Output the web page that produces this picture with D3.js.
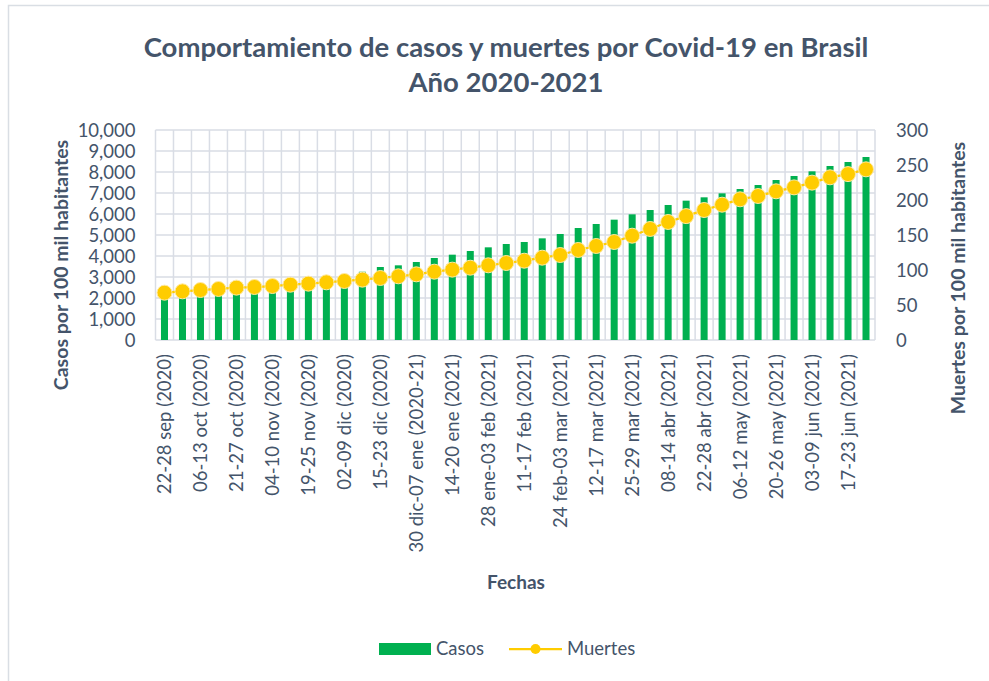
<!DOCTYPE html>
<html>
<head>
<meta charset="utf-8">
<script src="https://cdn.jsdelivr.net/npm/d3@7"></script>
<style>
  body { margin: 0; background: #fff; }
  svg { display: block; font-family: Lato, "Open Sans", sans-serif; }
</style>
</head>
<body>
<svg id="chart" width="989" height="681"></svg>
<script>
// weekly periods (every other one is labelled on the axis)
var fechas = [
  "22-28 sep (2020)", "29 sep-05 oct (2020)", "06-13 oct (2020)", "14-20 oct (2020)",
  "21-27 oct (2020)", "28 oct-03 nov (2020)", "04-10 nov (2020)", "11-18 nov (2020)",
  "19-25 nov (2020)", "26 nov-01 dic (2020)", "02-09 dic (2020)", "10-14 dic (2020)",
  "15-23 dic (2020)", "24-29 dic (2020)", "30 dic-07 ene (2020-21)", "08-13 ene (2021)",
  "14-20 ene (2021)", "21-27 ene (2021)", "28 ene-03 feb (2021)", "04-10 feb (2021)",
  "11-17 feb (2021)", "18-23 feb (2021)", "24 feb-03 mar (2021)", "04-11 mar (2021)",
  "12-17 mar (2021)", "18-24 mar (2021)", "25-29 mar (2021)", "30 mar-07 abr (2021)",
  "08-14 abr (2021)", "15-21 abr (2021)", "22-28 abr (2021)", "29 abr-05 may (2021)",
  "06-12 may (2021)", "13-19 may (2021)", "20-26 may (2021)", "27 may-02 jun (2021)",
  "03-09 jun (2021)", "10-16 jun (2021)", "17-23 jun (2021)", "24-30 jun (2021)"
];

// casos por 100 mil habitantes
var casos = [
  2240, 2320, 2400, 2470, 2540, 2600, 2670, 2760, 2870, 2980,
  3100, 3250, 3476, 3556, 3714, 3905, 4063, 4238, 4413, 4571,
  4667, 4841, 5048, 5333, 5524, 5730, 5984, 6190, 6429, 6635,
  6794, 6984, 7190, 7381, 7619, 7810, 8032, 8286, 8476, 8714
];

// muertes por 100 mil habitantes
var muertes = [
  67.6, 69.5, 71.4, 72.9, 74.8, 75.7, 77.1, 79.0, 80.5, 82.4,
  84.3, 86.2, 88.6, 91.0, 93.8, 97.6, 100.5, 103.3, 106.7, 110.0,
  113.3, 117.6, 121.4, 128.6, 134.3, 140.0, 149.0, 158.6, 168.6, 177.0,
  185.7, 193.3, 201.0, 205.7, 212.4, 218.0, 224.8, 232.4, 237.0, 243.8
];

var ticksCasos = [0, 1000, 2000, 3000, 4000, 5000, 6000, 7000, 8000, 9000, 10000];
var ticksMuertes = [0, 50, 100, 150, 200, 250, 300];

var textColor = "#44546a";
var gridColor = "#d9dde5";
var green = "#00b050";
var gold = "#ffcc00";
var tickSize = "18.5px";

var svg = d3.select("#chart");

// outer chart frame
svg.append("rect")
    .attr("x", 8.5).attr("y", 5.5)
    .attr("width", 1000).attr("height", 700)
    .attr("fill", "#fff")
    .attr("stroke", "#d9dee4")
    .attr("stroke-width", 1.5);

var plotLeft = 155.5, plotRight = 875, plotTop = 130, plotBottom = 340;

var x = d3.scaleBand()
    .domain(fechas)
    .range([plotLeft, plotRight])
    .paddingInner(0.61)
    .paddingOuter(0.305);

var yL = d3.scaleLinear().domain([0, 10000]).range([plotBottom, plotTop]);
var yR = d3.scaleLinear().domain([0, 300]).range([plotBottom, plotTop]);

var step = x.step();

// grid
var grid = svg.append("g");
grid.selectAll("line.h")
    .data(ticksCasos)
    .enter().append("line")
    .attr("class", "h")
    .attr("x1", plotLeft).attr("x2", plotRight)
    .attr("y1", function (d) { return yL(d); })
    .attr("y2", function (d) { return yL(d); })
    .attr("stroke", gridColor).attr("stroke-width", 1.5);

grid.selectAll("line.v")
    .data(d3.range(fechas.length + 1))
    .enter().append("line")
    .attr("class", "v")
    .attr("x1", function (i) { return plotLeft + i * step; })
    .attr("x2", function (i) { return plotLeft + i * step; })
    .attr("y1", plotTop).attr("y2", plotBottom)
    .attr("stroke", gridColor).attr("stroke-width", 1.5);

// bars
svg.append("g").selectAll("rect")
    .data(casos)
    .enter().append("rect")
    .attr("x", function (d, i) { return x(fechas[i]); })
    .attr("width", x.bandwidth())
    .attr("y", function (d) { return yL(d); })
    .attr("height", function (d) { return yL(0) - yL(d); })
    .attr("fill", green);

// deaths line + markers
var line = d3.line()
    .x(function (d, i) { return x(fechas[i]) + x.bandwidth() / 2; })
    .y(function (d) { return yR(d); });

svg.append("path")
    .datum(muertes)
    .attr("d", line)
    .attr("fill", "none")
    .attr("stroke", gold)
    .attr("stroke-width", 2.25);

svg.append("g").selectAll("circle")
    .data(muertes)
    .enter().append("circle")
    .attr("cx", function (d, i) { return x(fechas[i]) + x.bandwidth() / 2; })
    .attr("cy", function (d) { return yR(d); })
    .attr("r", 7.5)
    .attr("fill", gold)
    .attr("stroke", "#ffe9a0")
    .attr("stroke-width", 1);

// axes
var axL = svg.append("g")
    .attr("transform", "translate(" + (plotLeft - 20) + ",0)")
    .call(d3.axisLeft(yL).tickValues(ticksCasos).tickSize(0).tickFormat(d3.format(",")));
var axR = svg.append("g")
    .attr("transform", "translate(" + (plotRight + 21) + ",0)")
    .call(d3.axisRight(yR).tickValues(ticksMuertes).tickSize(0));

var xLabels = fechas.filter(function (d, i) { return i % 2 === 0; });
var axB = svg.append("g")
    .attr("transform", "translate(0," + (plotBottom + 14) + ")")
    .call(d3.axisBottom(x).tickValues(xLabels).tickSize(0));
axB.selectAll("text")
    .attr("transform", "rotate(-90)")
    .attr("text-anchor", "end")
    .attr("x", 0).attr("y", 0)
    .attr("dy", "0.35em");

[axL, axR, axB].forEach(function (a) {
    a.select(".domain").remove();
    a.selectAll("text")
        .attr("fill", textColor)
        .style("font-size", tickSize)
        .style("font-family", "Lato, 'Open Sans', sans-serif");
});
axL.selectAll("text").attr("x", 0).attr("dy", "0.36em");
axR.selectAll("text").attr("x", 0).attr("dy", "0.36em");

// titles
svg.append("text")
    .attr("x", 506).attr("y", 57)
    .attr("text-anchor", "middle")
    .attr("fill", textColor)
    .style("font-size", "27.5px").style("font-weight", "bold")
    .text("Comportamiento de casos y muertes por Covid-19 en Brasil");
svg.append("text")
    .attr("x", 506).attr("y", 92)
    .attr("text-anchor", "middle")
    .attr("fill", textColor)
    .style("font-size", "27.5px").style("font-weight", "bold")
    .text("Año 2020-2021");

svg.append("text")
    .attr("transform", "translate(68,265) rotate(-90)")
    .attr("text-anchor", "middle")
    .attr("fill", textColor)
    .style("font-size", "19.5px").style("font-weight", "bold")
    .text("Casos por 100 mil habitantes");

svg.append("text")
    .attr("transform", "translate(965,278) rotate(-90)")
    .attr("text-anchor", "middle")
    .attr("fill", textColor)
    .style("font-size", "19.5px").style("font-weight", "bold")
    .text("Muertes por 100 mil habitantes");

svg.append("text")
    .attr("x", 516).attr("y", 589)
    .attr("text-anchor", "middle")
    .attr("fill", textColor)
    .style("font-size", "19px").style("font-weight", "bold")
    .text("Fechas");

// legend
var legend = svg.append("g");
legend.append("rect")
    .attr("x", 379).attr("y", 643)
    .attr("width", 52).attr("height", 12)
    .attr("fill", green);
legend.append("text")
    .attr("x", 436).attr("y", 655)
    .attr("fill", textColor)
    .style("font-size", tickSize)
    .text("Casos");
legend.append("line")
    .attr("x1", 509).attr("x2", 562)
    .attr("y1", 649).attr("y2", 649)
    .attr("stroke", gold).attr("stroke-width", 2.25);
legend.append("circle")
    .attr("cx", 535.5).attr("cy", 649).attr("r", 5)
    .attr("fill", gold);
legend.append("text")
    .attr("x", 567).attr("y", 655)
    .attr("fill", textColor)
    .style("font-size", tickSize)
    .text("Muertes");
</script>
</body>
</html>
